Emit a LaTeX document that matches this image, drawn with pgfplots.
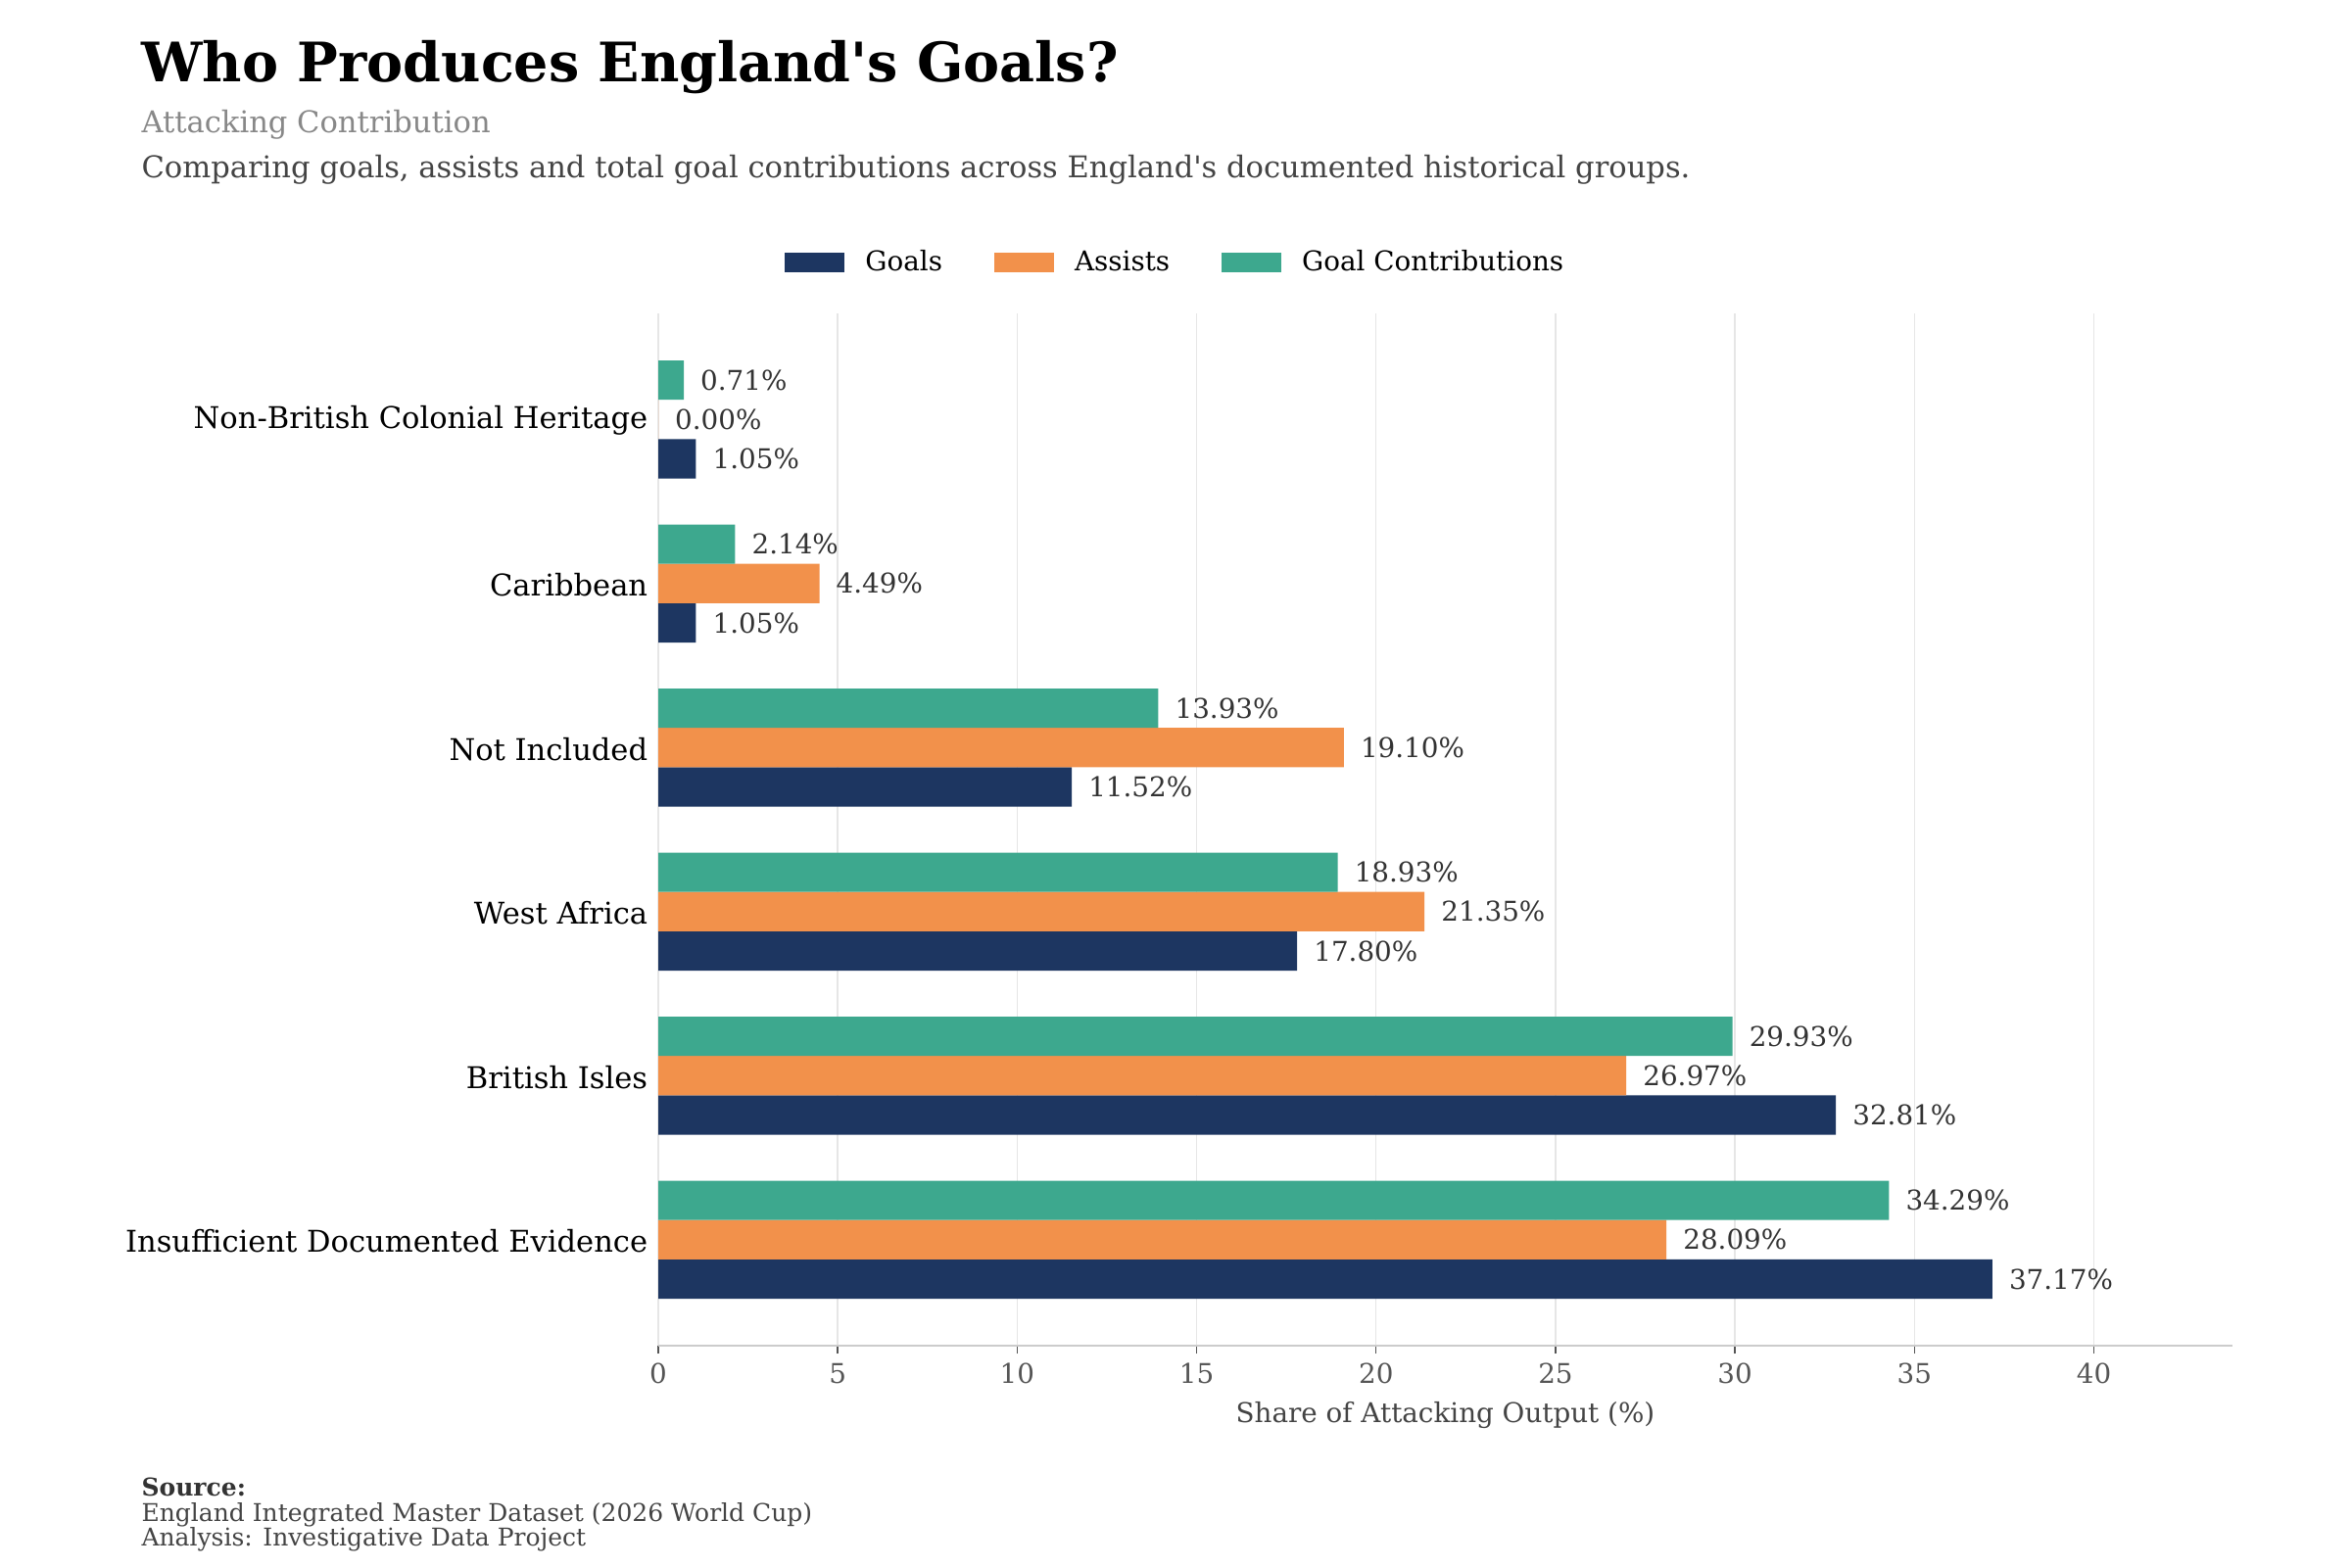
\documentclass[border=0pt]{standalone}
\usepackage{fontspec}
\setmainfont{DejaVu Serif}
\usepackage{pgfplots}
\pgfplotsset{compat=1.18}

\definecolor{goalsc}{HTML}{1D3661}
\definecolor{assistc}{HTML}{F2914B}
\definecolor{gcc}{HTML}{3DA88E}
\definecolor{gridc}{HTML}{E6E6E6}
\definecolor{spinec}{HTML}{CCCCCC}
\definecolor{tickc}{HTML}{555555}
\definecolor{labelc}{HTML}{333333}
\definecolor{subc}{HTML}{888888}
\definecolor{descc}{HTML}{444444}

\pgfplotsset{
  sqlegend/.style={legend image code/.code={%
    \fill[##1] (0pt,-3.6pt) rectangle (22pt,3.6pt);
    \path (27.6pt,0pt);}},
}

% category order, bottom to top
\pgfplotstableread{
y goals assists contrib
0 37.17 28.09 34.29
1 32.81 26.97 29.93
2 17.80 21.35 18.93
3 11.52 19.10 13.93
4 1.05  4.49  2.14
5 1.05  0.00  0.71
}\shares

\begin{document}
\begin{tikzpicture}
\path[use as bounding box] (0pt,0pt) rectangle (864pt,576pt);

\node[anchor=base west, inner sep=0pt, font=\fontsize{20}{24}\selectfont\bfseries] at (51.84pt,545.76pt) {Who Produces England\textquotesingle s Goals?};
\node[anchor=base west, inner sep=0pt, font=\fontsize{11}{13}\selectfont, text=subc] at (51.84pt,527.04pt) {Attacking Contribution};
\node[anchor=base west, inner sep=0pt, font=\fontsize{11}{13}\selectfont, text=descc] at (51.84pt,510.48pt) {Comparing goals, assists and total goal contributions across England\textquotesingle s documented historical groups.};

\begin{axis}[
  at={(241.92pt,81.36pt)}, anchor=south west,
  scale only axis, width=578.5pt, height=379.4pt,
  xbar, bar width=0.24,
  xmin=0, xmax=43.86, ymin=-0.646, ymax=5.646,
  axis x line*=bottom, axis y line*=left,
  x axis line style={-, draw=spinec, line width=0.8pt},
  y axis line style={draw=none},
  xtick={0,5,...,40}, ytick={0,...,5},
  yticklabels={Insufficient Documented Evidence, British Isles, West Africa, Not Included, Caribbean, Non-British Colonial Heritage},
  tick align=outside, major tick length=3pt,
  xtick style={draw=tickc, line width=0.5pt},
  ytick style={draw=none},
  xmajorgrids, grid style={gridc, line width=0.5pt},
  /pgf/number format/assume math mode=true,
  xticklabel style={font=\fontsize{10}{12}\selectfont, text=tickc},
  yticklabel style={font=\fontsize{11}{13}\selectfont, text=black, inner sep=0pt, xshift=-0.7pt, yshift=-0.5pt},
  xlabel={Share of Attacking Output (\%)},
  xlabel style={font=\fontsize{10}{12}\selectfont, text=descc, anchor=center, at={(axis description cs:0.5,-0.0675)}},
  nodes near coords={\pgfmathprintnumber[fixed, fixed zerofill, precision=2]{\pgfplotspointmeta}\%},
  point meta=x,
  nodes near coords style={anchor=west, inner sep=0pt, xshift=6pt, font=\fontsize{10}{12}\selectfont, text=labelc, /pgf/number format/assume math mode=true},
  legend columns=3,
  legend cell align=left,
  legend style={draw=none, fill=none, at={(0.3295,1.049)}, anchor=center, font=\fontsize{10}{12}\selectfont,
    /tikz/every even column/.append style={column sep=17pt}},
]
\addplot[fill=goalsc, draw=none, bar shift=-0.24, sqlegend] table[x=goals, y=y] {\shares};
\addlegendentry{Goals}
\addplot[fill=assistc, draw=none, bar shift=0, sqlegend] table[x=assists, y=y] {\shares};
\addlegendentry{Assists}
\addplot[fill=gcc, draw=none, bar shift=0.24, sqlegend] table[x=contrib, y=y] {\shares};
\addlegendentry{Goal Contributions}
\end{axis}

\node[anchor=base west, inner sep=0pt, font=\fontsize{9}{11}\selectfont\bfseries, text=labelc] at (51.84pt,26.28pt) {Source:};
\node[anchor=base west, inner sep=0pt, font=\fontsize{9}{11}\selectfont, text=descc] at (51.84pt,16.92pt) {England Integrated Master Dataset (2026 World Cup)};
\node[anchor=base west, inner sep=0pt, font=\fontsize{9}{11}\selectfont, text=descc] at (51.84pt,7.92pt) {Analysis: Investigative Data Project};
\end{tikzpicture}
\end{document}
